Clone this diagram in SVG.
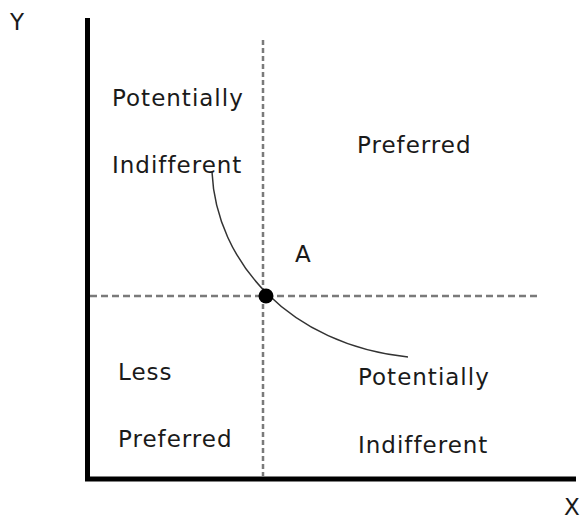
<svg xmlns="http://www.w3.org/2000/svg" width="583" height="520" viewBox="0 0 583 520">
<style>
  text { font-family: "DejaVu Sans", "Liberation Sans", sans-serif; font-size: 23px; letter-spacing: 1px; fill: #1a1a1a; }
  .axis { stroke: #000; stroke-width: 5; fill: none; }
  .dash { stroke: #7a7a7a; stroke-width: 2.5; fill: none; }
</style>
<rect width="583" height="520" fill="#fff"/>
<g id="axes">
  <line class="axis" x1="87.5" y1="18" x2="87.5" y2="481"/>
  <line class="axis" x1="85" y1="479" x2="576" y2="479"/>
  <text x="10" y="30">Y</text>
  <text x="564" y="515">X</text>
</g>
<g id="connectors">
  <line class="dash" x1="263" y1="40" x2="263" y2="476" stroke-dasharray="5,3"/>
  <line class="dash" x1="90" y1="296" x2="541" y2="296" stroke-dasharray="7,4"/>
  <path d="M212,172 C216,262 290,345 408,357" stroke="#333" stroke-width="1.5" fill="none"/>
</g>
<g id="pointA">
  <circle cx="266" cy="296" r="7.5" fill="#000"/>
  <text x="295" y="262">A</text>
</g>
<g id="topLeft">
  <text x="112" y="106">Potentially</text>
  <text x="112" y="173">Indifferent</text>
</g>
<g id="topRight">
  <text x="357" y="153">Preferred</text>
</g>
<g id="bottomLeft">
  <text x="118" y="380">Less</text>
  <text x="118" y="447">Preferred</text>
</g>
<g id="bottomRight">
  <text x="358" y="385">Potentially</text>
  <text x="358" y="453">Indifferent</text>
</g>
</svg>
